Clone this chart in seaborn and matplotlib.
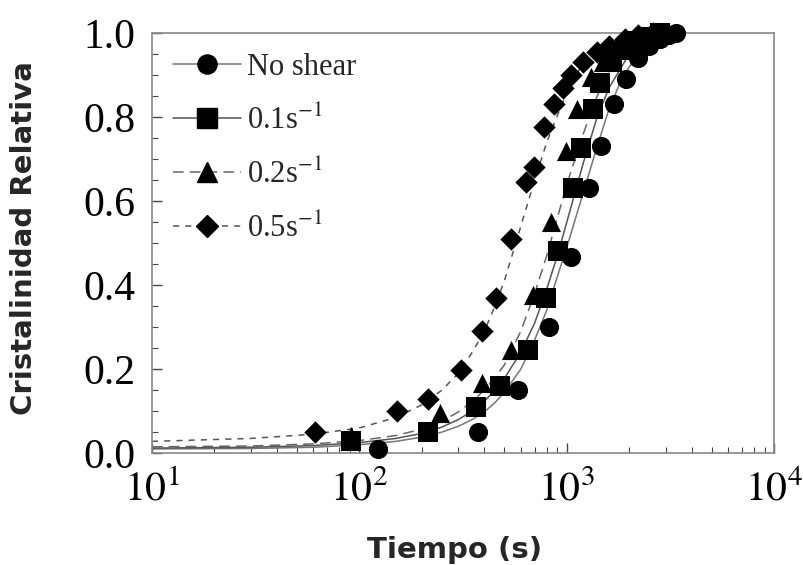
import numpy as np
import pandas as pd
import matplotlib
matplotlib.use("Agg")
import matplotlib.pyplot as plt
from matplotlib.lines import Line2D
from matplotlib.ticker import FixedLocator, LogLocator, NullFormatter
import seaborn as sns

# ---------------- data ----------------
labels = ["No shear", "0.1s$^{-1}$", "0.2s$^{-1}$", "0.5s$^{-1}$"]

# measured points
t_noshear = [123, 373, 580, 818, 1050, 1275, 1460, 1687, 1927, 2200, 2500, 2800, 3100, 3365]
v_noshear = [0.01, 0.05, 0.15, 0.30, 0.467, 0.63, 0.73, 0.83, 0.89, 0.94, 0.97, 0.985, 0.995, 1.0]

t_s01 = [91, 215, 364, 478, 647, 796, 906, 1071, 1173, 1334, 1450, 1650, 1900, 2200, 2500, 2800]
v_s01 = [0.03, 0.05, 0.11, 0.16, 0.245, 0.37, 0.48, 0.63, 0.726, 0.82, 0.88, 0.93, 0.96, 0.98, 0.99, 1.0]

t_s02 = [91, 246, 391, 536, 687, 835, 990, 1123, 1306, 1500, 1700, 2000, 2400, 2800]
v_s02 = [0.04, 0.095, 0.167, 0.245, 0.376, 0.55, 0.72, 0.82, 0.895, 0.93, 0.96, 0.98, 0.99, 1.0]

t_s05 = [61, 152, 213, 309, 391, 454, 536, 635, 692, 778, 867, 955, 1050, 1200, 1400, 1600, 1900, 2200, 2600]
v_s05 = [0.05, 0.10, 0.13, 0.197, 0.29, 0.37, 0.51, 0.645, 0.68, 0.776, 0.83, 0.87, 0.90, 0.93, 0.955, 0.97, 0.985, 0.995, 1.0]

# fitted curves
ct_noshear = [10, 30, 60, 100, 150, 200, 250, 300, 350, 400, 450, 500, 600, 700, 800, 900, 1000, 1200, 1400, 1600, 1800, 2000, 2500, 3000, 3500]
cv_noshear = [0.01, 0.011, 0.014, 0.02, 0.028, 0.038, 0.05, 0.064, 0.08, 0.098, 0.12, 0.145, 0.20, 0.27, 0.34, 0.42, 0.49, 0.62, 0.73, 0.82, 0.88, 0.92, 0.97, 0.99, 1.0]

ct_s01 = [10, 30, 60, 100, 150, 200, 250, 300, 350, 400, 450, 500, 600, 700, 800, 900, 1000, 1200, 1400, 1600, 2000, 2500, 3000]
cv_s01 = [0.012, 0.014, 0.018, 0.025, 0.035, 0.047, 0.062, 0.08, 0.10, 0.123, 0.15, 0.178, 0.24, 0.31, 0.39, 0.47, 0.55, 0.69, 0.80, 0.87, 0.95, 0.985, 1.0]

ct_s02 = [10, 30, 60, 100, 150, 200, 250, 300, 350, 400, 450, 500, 600, 700, 800, 900, 1000, 1200, 1400, 1600, 2000, 2500, 3000]
cv_s02 = [0.015, 0.017, 0.022, 0.03, 0.042, 0.057, 0.076, 0.098, 0.123, 0.15, 0.18, 0.21, 0.29, 0.38, 0.47, 0.56, 0.64, 0.76, 0.85, 0.91, 0.97, 0.995, 1.0]

ct_s05 = [10, 30, 60, 100, 150, 200, 250, 300, 350, 400, 450, 500, 600, 700, 800, 1000, 1200, 1500, 2000, 2500]
cv_s05 = [0.028, 0.035, 0.045, 0.06, 0.085, 0.115, 0.15, 0.19, 0.24, 0.29, 0.35, 0.41, 0.54, 0.65, 0.74, 0.86, 0.93, 0.97, 0.99, 1.0]

points = [(t_noshear, v_noshear), (t_s01, v_s01), (t_s02, v_s02), (t_s05, v_s05)]
curves = [(ct_noshear, cv_noshear), (ct_s01, cv_s01), (ct_s02, cv_s02), (ct_s05, cv_s05)]

markers = ["o", "s", "^", "D"]
msizes = [190, 190, 190, 130]
line_styles = ["-", "-", (0, (7, 4)), (0, (4, 4))]
line_colors = ["#777777", "#555555", "#666666", "#555555"]

# ---------------- plot ----------------
sns.set_style("white")
plt.rcParams["mathtext.fontset"] = "stix"

fig = plt.figure(figsize=(8.04, 5.65), dpi=100)
ax = fig.add_axes([0.189, 0.198, 0.774, 0.7435])

for (ct, cv), ls, lc in zip(curves, line_styles, line_colors):
    dfc = pd.DataFrame({"t": ct, "v": cv})
    sns.lineplot(data=dfc, x="t", y="v", ax=ax, color=lc, lw=1.1,
                 linestyle=ls, sort=True, estimator=None, legend=False)

for (tp, vp), m, s in zip(points, markers, msizes):
    dfp = pd.DataFrame({"t": tp, "v": vp})
    sns.scatterplot(data=dfp, x="t", y="v", ax=ax, marker=m, s=s,
                    color="black", edgecolor="black", linewidth=0, legend=False,
                    zorder=3, clip_on=False)

ax.set_xscale("log")
ax.set_xlim(10, 10000)
ax.set_ylim(0, 1.0)

ax.set_xticks([10, 100, 1000, 10000])
ax.set_xticklabels(["$10^{1}$", "$10^{2}$", "$10^{3}$", "$10^{4}$"])
ax.xaxis.set_minor_locator(LogLocator(base=10, subs=np.arange(2, 10)))
ax.xaxis.set_minor_formatter(NullFormatter())
ax.set_yticks([0.0, 0.2, 0.4, 0.6, 0.8, 1.0])
ax.set_yticklabels(["0.0", "0.2", "0.4", "0.6", "0.8", "1.0"])
ax.yaxis.set_minor_locator(FixedLocator(np.arange(0, 1.001, 0.05)))

ax.tick_params(axis="both", which="both", direction="in", top=False, right=False,
               bottom=True, left=True, colors="#444444", labelcolor="black")
ax.tick_params(axis="both", which="major", length=7, width=1, pad=8)
ax.tick_params(axis="both", which="minor", length=4, width=0.8)
for lab in ax.get_yticklabels():
    lab.set_fontfamily("Liberation Serif")
    lab.set_fontsize(30)
for lab in ax.get_xticklabels():
    lab.set_fontsize(30)
ax.tick_params(axis="x", which="major", pad=10)
ax.tick_params(axis="y", which="major", pad=12)

for sp in ax.spines.values():
    sp.set_color("#888888")
    sp.set_linewidth(1.2)

ax.set_xlabel("Tiempo (s)", fontfamily="DejaVu Sans", fontweight="bold", fontsize=21)
ax.set_ylabel("Cristalinidad Relativa", fontfamily="DejaVu Sans", fontweight="bold", fontsize=21)
ax.yaxis.set_label_coords(-0.183, 0.513)
ax.xaxis.set_label_coords(0.487, -0.198)

handles = []
for m, ls, lc, s in zip(markers, line_styles, line_colors, msizes):
    handles.append(Line2D([], [], marker=m, linestyle=ls, color=lc, lw=1.1,
                          markerfacecolor="black", markeredgecolor="black",
                          markersize=np.sqrt(s)))
leg = ax.legend(handles, labels, loc="upper left", frameon=False,
                prop={"family": "Liberation Serif", "size": 22},
                handlelength=2.2, handletextpad=0.2, labelspacing=0.78,
                borderaxespad=0.3, bbox_to_anchor=(0.0, 1.003))

fig.savefig("out.png", dpi=100)
